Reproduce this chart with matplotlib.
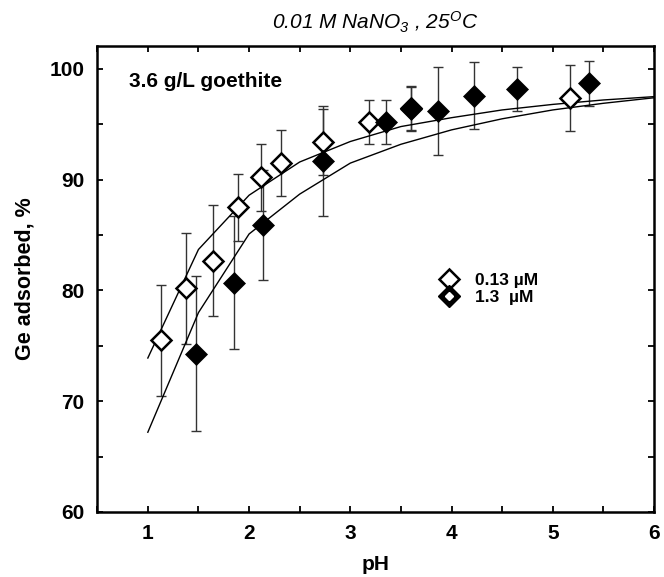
import numpy as np
import matplotlib
matplotlib.use("Agg")
import matplotlib.pyplot as plt
from matplotlib.ticker import MultipleLocator, FuncFormatter
from matplotlib.legend_handler import HandlerTuple
from matplotlib.lines import Line2D

plt.rcParams['font.family'] = ['Liberation Sans', 'DejaVu Sans']
plt.rcParams['mathtext.fontset'] = 'custom'
plt.rcParams['mathtext.rm'] = 'Liberation Sans:italic'
plt.rcParams['mathtext.it'] = 'Liberation Sans:italic'

# Datos: 0.13 uM Ge (símbolo abierto)
ph_low = [1.13, 1.38, 1.64, 1.89, 2.12, 2.32, 2.73, 3.18, 3.60, 5.17]
ads_low = [75.5, 80.2, 82.7, 87.5, 90.2, 91.5, 93.4, 95.2, 96.5, 97.4]
err_low = [5, 5, 5, 3, 3, 3, 3, 2, 2, 3]

# Datos: 1.3 uM Ge (símbolo lleno)
ph_high = [1.48, 1.85, 2.14, 2.73, 3.35, 3.60, 3.87, 4.22, 4.65, 5.36]
ads_high = [74.3, 80.7, 85.9, 91.7, 95.2, 96.4, 96.2, 97.6, 98.2, 98.7]
err_high = [7, 6, 5, 5, 2, 2, 4, 3, 2, 2]

# Curvas del modelo
ph_model = [1.0, 1.5, 2.0, 2.5, 3.0, 3.5, 4.0, 4.5, 5.0, 5.5, 6.0]
model_low = [73.9, 83.7, 88.6, 91.6, 93.45, 94.8, 95.6, 96.3, 96.8, 97.2, 97.5]
model_high = [67.2, 78.0, 85.1, 88.7, 91.5, 93.2, 94.5, 95.5, 96.3, 96.9, 97.4]

fig = plt.figure(figsize=(6.64, 5.77), dpi=100)
ax = fig.add_axes([0.1464, 0.1127, 0.8386, 0.8081])

ax.plot(ph_model, model_low, 'k-', lw=1.0, zorder=2)
ax.plot(ph_model, model_high, 'k-', lw=1.0, zorder=2)

ax.errorbar(ph_low, ads_low, yerr=err_low, fmt='none', ecolor='#333333',
            elinewidth=1.0, capsize=3.5, capthick=1.0, zorder=1)
ax.errorbar(ph_high, ads_high, yerr=err_high, fmt='none', ecolor='#333333',
            elinewidth=1.0, capsize=3.5, capthick=1.0, zorder=1)

ax.plot(ph_low, ads_low, 'D', ms=10, mfc='white', mec='black', mew=1.8, zorder=3)
ax.plot(ph_high, ads_high, 'D', ms=11, mfc='black', mec='black', mew=0.5, zorder=4)

ax.set_xlim(0.5, 6)
ax.set_ylim(60, 102.1)
ax.xaxis.set_major_locator(MultipleLocator(0.5))
ax.xaxis.set_major_formatter(FuncFormatter(lambda v, p: f'{v:.0f}' if abs(v - round(v)) < 1e-6 and v > 0.9 else ''))
ax.yaxis.set_major_locator(MultipleLocator(5))
ax.yaxis.set_major_formatter(FuncFormatter(lambda v, p: f'{v:.0f}' if int(round(v)) % 10 == 0 else ''))
ax.tick_params(direction='in', length=4.5, width=1.3, top=True, right=True,
               labelsize=15, pad=9)
for lab in ax.get_xticklabels() + ax.get_yticklabels():
    lab.set_fontweight('bold')
for s in ax.spines.values():
    s.set_linewidth(1.8)

ax.set_xlabel('pH', fontsize=15, fontweight='bold', labelpad=8)
ax.set_ylabel('Ge adsorbed, %', fontsize=15.5, fontweight='bold', labelpad=10)
ax.set_title(r'0.01 M NaNO$_3$ , 25$^O$C', fontsize=15, style='italic', pad=12)

ax.text(0.057, 0.923, '3.6 g/L goethite', transform=ax.transAxes, fontsize=15,
        fontweight='bold', va='center', ha='left')

h_open = Line2D([], [], ls='none', marker='D', ms=10, mfc='white', mec='black', mew=1.8)
h_fill = Line2D([], [], ls='none', marker='D', ms=11, mfc='black', mec='black')
h_dot = Line2D([], [], ls='none', marker='D', ms=4, mfc='white', mec='white')
ax.legend([h_open, (h_fill, h_dot)], ['0.13 µM', '1.3  µM'],
          handler_map={tuple: HandlerTuple(ndivide=1)},
          loc='center left', bbox_to_anchor=(0.585, 0.478), frameon=False,
          prop={'weight': 'bold', 'size': 12.5}, handlelength=1.2,
          handletextpad=0.9, labelspacing=0.1)

plt.savefig('out.png', dpi=100)
